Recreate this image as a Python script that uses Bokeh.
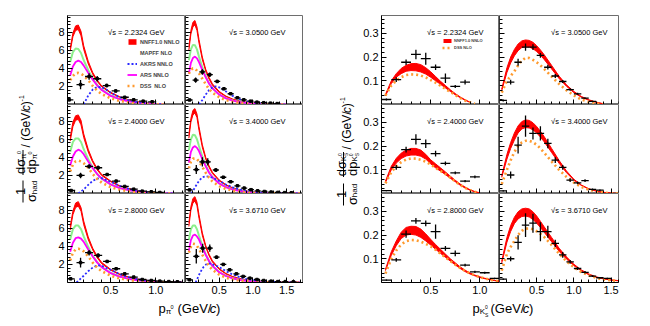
import math
import numpy as np
from bokeh.plotting import figure
from bokeh.layouts import row, column
from bokeh.models import (Range1d, LinearAxis, FixedTicker, PrintfTickFormatter, Grid,
                          CustomJSTickFormatter, Label, Legend, LegendItem)
from bokeh.embed import file_html
from bokeh.resources import INLINE

FONT = "Liberation Sans"

# ======================= pi0 data =======================
# --- 2.2324 GeV
pi0_2232_p = [0.05, 0.08, 0.11, 0.14, 0.17, 0.2, 0.25, 0.3, 0.35, 0.4, 0.5, 0.6, 0.7, 0.8, 0.9, 1.0, 1.1]
pi0_2232_nnff_hi = [6.2, 7.9, 8.7, 8.8, 8.1, 6.5, 4.8, 3.55, 2.7, 2.05, 1.35, 0.85, 0.52, 0.31, 0.17, 0.08, 0.02]
pi0_2232_nnff_lo = [5.9, 7.5, 8.2, 8.3, 7.6, 6.1, 4.5, 3.35, 2.55, 1.95, 1.27, 0.8, 0.49, 0.29, 0.16, 0.07, 0.02]
pi0_2232_mapff = [4.7, 5.8, 6.2, 6.15, 5.7, 4.9, 3.8, 2.85, 2.15, 1.65, 1.0, 0.62, 0.38, 0.22, 0.12, 0.05, 0.015]
pi0_2232_ars = [3.2, 4.2, 4.7, 4.85, 4.7, 4.3, 3.5, 2.75, 2.1, 1.6, 0.95, 0.58, 0.36, 0.21, 0.11, 0.05, 0.015]
pi0_2232_dss = [2.7, 3.15, 3.45, 3.5, 3.4, 3.2, 2.7, 2.05, 1.55, 1.15, 0.68, 0.4, 0.22, 0.11, 0.05, 0.02, 0.005]
pi0_2232_akrs_p = [0.2, 0.25, 0.3, 0.35, 0.4, 0.45, 0.5, 0.6, 0.7, 0.8, 0.9, 1.0, 1.1]
pi0_2232_akrs = [0.0, 1.0, 1.65, 1.95, 1.9, 1.65, 1.3, 0.8, 0.47, 0.26, 0.13, 0.05, 0.01]
pi0_2232_data_p = [0.04, 0.165, 0.26, 0.35, 0.455, 0.555, 0.655, 0.755, 0.86, 0.96]
pi0_2232_data_v = [0.52, 2.2, 3.1, 2.85, 2.1, 1.5, 0.8, 0.52, 0.37, 0.3]
pi0_2232_data_e = [0.15, 0.5, 0.35, 0.3, 0.2, 0.15, 0.12, 0.1, 0.08, 0.08]

# --- 3.0500 GeV
pi0_3050_p = [0.05, 0.08, 0.11, 0.14, 0.17, 0.2, 0.25, 0.3, 0.35, 0.4, 0.5, 0.6, 0.7, 0.8, 0.9, 1.0, 1.1, 1.2, 1.3, 1.4, 1.5]
pi0_3050_nnff_hi = [6.4, 8.2, 9.1, 9.3, 8.6, 7.2, 5.25, 3.9, 3.0, 2.28, 1.45, 0.93, 0.6, 0.38, 0.25, 0.16, 0.095, 0.055, 0.03, 0.015, 0.005]
pi0_3050_nnff_lo = [6.0, 7.8, 8.6, 8.8, 8.2, 6.8, 4.95, 3.7, 2.8, 2.12, 1.35, 0.87, 0.56, 0.36, 0.23, 0.14, 0.085, 0.05, 0.028, 0.013, 0.004]
pi0_3050_mapff = [4.9, 6.1, 6.6, 6.55, 6.1, 5.3, 4.1, 3.1, 2.35, 1.8, 1.1, 0.7, 0.45, 0.29, 0.18, 0.11, 0.07, 0.04, 0.02, 0.01, 0.003]
pi0_3050_ars = [3.4, 4.6, 5.15, 5.3, 5.1, 4.7, 3.8, 3.0, 2.3, 1.8, 1.1, 0.68, 0.43, 0.27, 0.17, 0.1, 0.06, 0.035, 0.02, 0.01, 0.003]
pi0_3050_dss = [3.4, 3.85, 4.0, 3.95, 3.75, 3.45, 2.85, 2.25, 1.7, 1.3, 0.8, 0.48, 0.3, 0.18, 0.11, 0.06, 0.035, 0.02, 0.01, 0.005, 0.0]
pi0_3050_akrs_p = [0.2, 0.25, 0.3, 0.35, 0.4, 0.45, 0.5, 0.6, 0.7, 0.8, 0.9, 1.0, 1.1, 1.2, 1.3, 1.4, 1.5]
pi0_3050_akrs = [0.0, 0.5, 1.1, 1.6, 1.9, 2.0, 1.9, 1.45, 0.95, 0.6, 0.37, 0.22, 0.13, 0.07, 0.04, 0.02, 0.0]
pi0_3050_data_p = [0.06, 0.15, 0.25, 0.36, 0.47, 0.57, 0.67, 0.77, 0.865, 0.965, 1.06, 1.16, 1.26, 1.36]
pi0_3050_data_v = [0.5, 2.7, 3.6, 3.3, 2.55, 1.74, 1.19, 0.74, 0.52, 0.37, 0.26, 0.2, 0.15, 0.1]
pi0_3050_data_e = [0.12, 0.3, 0.3, 0.25, 0.18, 0.12, 0.1, 0.08, 0.06, 0.05, 0.05, 0.05, 0.04, 0.04]

# --- 2.4000 GeV
pi0_2400_p = [0.05, 0.08, 0.11, 0.14, 0.17, 0.2, 0.25, 0.3, 0.35, 0.4, 0.5, 0.6, 0.7, 0.8, 0.9, 1.0, 1.1, 1.2]
pi0_2400_nnff_hi = [6.2, 7.9, 8.6, 8.7, 8.1, 6.6, 4.9, 3.65, 2.75, 2.1, 1.38, 0.86, 0.54, 0.33, 0.19, 0.1, 0.04, 0.01]
pi0_2400_nnff_lo = [5.8, 7.4, 8.1, 8.2, 7.6, 6.2, 4.6, 3.45, 2.6, 1.98, 1.3, 0.8, 0.5, 0.3, 0.17, 0.09, 0.035, 0.01]
pi0_2400_mapff = [4.6, 5.7, 6.1, 6.1, 5.7, 4.9, 3.8, 2.85, 2.15, 1.65, 1.0, 0.62, 0.38, 0.23, 0.13, 0.07, 0.03, 0.01]
pi0_2400_ars = [3.1, 4.1, 4.65, 4.85, 4.7, 4.35, 3.55, 2.8, 2.15, 1.65, 1.0, 0.6, 0.37, 0.22, 0.12, 0.06, 0.025, 0.01]
pi0_2400_dss = [2.45, 3.2, 3.55, 3.65, 3.55, 3.35, 2.85, 2.15, 1.6, 1.2, 0.7, 0.42, 0.24, 0.13, 0.07, 0.03, 0.01, 0.0]
pi0_2400_akrs_p = [0.14, 0.2, 0.25, 0.3, 0.35, 0.4, 0.5, 0.6, 0.7, 0.8, 0.9, 1.0, 1.1, 1.2]
pi0_2400_akrs = [0.0, 0.45, 0.95, 1.4, 1.65, 1.7, 1.3, 0.85, 0.52, 0.3, 0.16, 0.08, 0.03, 0.0]
pi0_2400_data_p = [0.06, 0.165, 0.26, 0.36, 0.46, 0.56, 0.655, 0.755, 0.85, 0.95, 1.045]
pi0_2400_data_v = [0.33, 2.0, 3.0, 2.85, 2.1, 1.37, 0.78, 0.48, 0.26, 0.19, 0.11]
pi0_2400_data_e = [0.1, 0.3, 0.25, 0.25, 0.15, 0.12, 0.1, 0.08, 0.06, 0.05, 0.05]

# --- 3.4000 GeV
pi0_3400_p = [0.05, 0.08, 0.11, 0.14, 0.17, 0.2, 0.25, 0.3, 0.35, 0.4, 0.5, 0.6, 0.7, 0.8, 0.9, 1.0, 1.1, 1.2, 1.3, 1.4, 1.5, 1.6, 1.7]
pi0_3400_nnff_hi = [6.5, 8.3, 9.2, 9.4, 8.8, 7.4, 5.4, 4.0, 3.05, 2.35, 1.5, 0.97, 0.63, 0.41, 0.27, 0.17, 0.11, 0.07, 0.045, 0.028, 0.016, 0.008, 0.002]
pi0_3400_nnff_lo = [6.1, 7.9, 8.7, 8.9, 8.4, 7.0, 5.1, 3.8, 2.88, 2.2, 1.4, 0.91, 0.59, 0.38, 0.25, 0.16, 0.1, 0.065, 0.04, 0.025, 0.014, 0.007, 0.002]
pi0_3400_mapff = [4.8, 6.0, 6.5, 6.45, 6.0, 5.25, 4.1, 3.1, 2.35, 1.8, 1.12, 0.72, 0.46, 0.3, 0.19, 0.12, 0.075, 0.046, 0.028, 0.017, 0.01, 0.005, 0.001]
pi0_3400_ars = [3.4, 4.6, 5.1, 5.25, 5.05, 4.7, 3.8, 3.0, 2.3, 1.8, 1.1, 0.7, 0.44, 0.28, 0.18, 0.11, 0.07, 0.043, 0.026, 0.016, 0.009, 0.004, 0.001]
pi0_3400_dss = [2.8, 3.5, 3.85, 3.9, 3.8, 3.55, 2.95, 2.3, 1.75, 1.33, 0.82, 0.5, 0.31, 0.19, 0.12, 0.07, 0.042, 0.025, 0.015, 0.008, 0.004, 0.002, 0.0]
pi0_3400_akrs_p = [0.09, 0.15, 0.2, 0.25, 0.3, 0.35, 0.4, 0.5, 0.6, 0.7, 0.8, 0.9, 1.0, 1.1, 1.2, 1.3, 1.4, 1.5, 1.6, 1.7]
pi0_3400_akrs = [0.0, 0.8, 1.4, 1.8, 1.9, 1.85, 1.75, 1.4, 1.0, 0.68, 0.45, 0.29, 0.18, 0.11, 0.07, 0.04, 0.025, 0.014, 0.007, 0.0]
pi0_3400_data_p = [0.06, 0.16, 0.25, 0.33, 0.45, 0.56, 0.67, 0.77, 0.87, 0.97, 1.07, 1.17, 1.27, 1.37, 1.47, 1.57]
pi0_3400_data_v = [0.4, 2.65, 3.5, 3.5, 2.6, 1.8, 1.3, 0.85, 0.6, 0.42, 0.3, 0.22, 0.16, 0.12, 0.1, 0.08]
pi0_3400_data_e = [0.12, 0.5, 0.5, 0.4, 0.2, 0.14, 0.1, 0.08, 0.06, 0.05, 0.05, 0.04, 0.04, 0.04, 0.04, 0.04]

# --- 2.8000 GeV
pi0_2800_p = [0.05, 0.08, 0.11, 0.14, 0.17, 0.2, 0.25, 0.3, 0.35, 0.4, 0.5, 0.6, 0.7, 0.8, 0.9, 1.0, 1.1, 1.2, 1.3]
pi0_2800_nnff_hi = [6.2, 7.9, 8.8, 8.95, 8.3, 6.8, 5.05, 3.8, 2.9, 2.22, 1.45, 0.93, 0.6, 0.38, 0.24, 0.15, 0.085, 0.045, 0.02]
pi0_2800_nnff_lo = [5.8, 7.5, 8.3, 8.45, 7.9, 6.4, 4.75, 3.6, 2.72, 2.08, 1.36, 0.87, 0.56, 0.36, 0.22, 0.13, 0.075, 0.04, 0.018]
pi0_2800_mapff = [4.8, 5.9, 6.3, 6.3, 5.9, 5.1, 3.95, 2.95, 2.25, 1.72, 1.05, 0.67, 0.42, 0.26, 0.16, 0.1, 0.06, 0.03, 0.012]
pi0_2800_ars = [3.4, 4.4, 4.9, 5.0, 4.85, 4.5, 3.65, 2.88, 2.2, 1.7, 1.03, 0.64, 0.4, 0.25, 0.15, 0.09, 0.05, 0.025, 0.01]
pi0_2800_dss = [2.45, 3.3, 3.65, 3.75, 3.65, 3.45, 2.9, 2.2, 1.65, 1.25, 0.75, 0.45, 0.27, 0.16, 0.09, 0.05, 0.025, 0.012, 0.004]
pi0_2800_akrs_p = [0.12, 0.2, 0.25, 0.3, 0.35, 0.4, 0.5, 0.6, 0.7, 0.8, 0.9, 1.0, 1.1, 1.2, 1.3]
pi0_2800_akrs = [0.0, 0.75, 1.25, 1.65, 1.9, 1.85, 1.4, 0.92, 0.58, 0.36, 0.21, 0.12, 0.065, 0.03, 0.01]
pi0_2800_data_p = [0.055, 0.165, 0.26, 0.36, 0.46, 0.56, 0.655, 0.755, 0.85, 0.95, 1.045, 1.145, 1.24]
pi0_2800_data_v = [0.41, 2.2, 3.3, 3.0, 2.33, 1.52, 0.96, 0.6, 0.33, 0.22, 0.15, 0.1, 0.08]
pi0_2800_data_e = [0.1, 0.55, 0.3, 0.25, 0.15, 0.12, 0.1, 0.08, 0.06, 0.05, 0.05, 0.04, 0.04]

# --- 3.6710 GeV
pi0_3671_p = [0.05, 0.08, 0.11, 0.14, 0.17, 0.2, 0.25, 0.3, 0.35, 0.4, 0.5, 0.6, 0.7, 0.8, 0.9, 1.0, 1.1, 1.2, 1.3, 1.4, 1.5, 1.6, 1.7]
pi0_3671_nnff_hi = [6.6, 8.4, 9.3, 9.5, 8.9, 7.5, 5.5, 4.1, 3.12, 2.4, 1.55, 1.0, 0.66, 0.44, 0.29, 0.19, 0.125, 0.08, 0.05, 0.032, 0.02, 0.011, 0.005]
pi0_3671_nnff_lo = [6.2, 8.0, 8.8, 9.0, 8.5, 7.1, 5.2, 3.9, 2.95, 2.26, 1.45, 0.94, 0.62, 0.41, 0.27, 0.18, 0.115, 0.075, 0.047, 0.03, 0.018, 0.01, 0.004]
pi0_3671_mapff = [4.7, 5.9, 6.3, 6.3, 5.9, 5.2, 4.05, 3.1, 2.38, 1.83, 1.15, 0.74, 0.48, 0.31, 0.2, 0.13, 0.085, 0.055, 0.034, 0.021, 0.012, 0.006, 0.002]
pi0_3671_ars = [3.5, 4.7, 5.2, 5.3, 5.1, 4.75, 3.85, 3.05, 2.35, 1.83, 1.13, 0.72, 0.46, 0.3, 0.19, 0.12, 0.078, 0.05, 0.031, 0.019, 0.011, 0.005, 0.001]
pi0_3671_dss = [3.3, 3.95, 4.3, 4.25, 4.05, 3.7, 3.05, 2.4, 1.82, 1.4, 0.87, 0.54, 0.34, 0.21, 0.13, 0.08, 0.05, 0.03, 0.018, 0.01, 0.005, 0.002, 0.0]
pi0_3671_akrs_p = [0.15, 0.22, 0.27, 0.32, 0.37, 0.42, 0.5, 0.6, 0.7, 0.8, 0.9, 1.0, 1.1, 1.2, 1.3, 1.4, 1.5, 1.6, 1.7]
pi0_3671_akrs = [0.0, 1.15, 1.75, 2.1, 2.1, 1.95, 1.7, 1.25, 0.88, 0.6, 0.4, 0.26, 0.17, 0.11, 0.07, 0.045, 0.027, 0.014, 0.005]
pi0_3671_data_p = [0.06, 0.16, 0.255, 0.36, 0.46, 0.56, 0.655, 0.755, 0.855, 0.955, 1.06, 1.16, 1.27, 1.37, 1.48, 1.6]
pi0_3671_data_v = [0.3, 2.9, 3.8, 3.8, 2.8, 2.0, 1.4, 0.96, 0.67, 0.48, 0.33, 0.22, 0.15, 0.1, 0.1, 0.08]
pi0_3671_data_e = [0.12, 0.8, 0.5, 0.4, 0.2, 0.15, 0.12, 0.1, 0.08, 0.06, 0.05, 0.05, 0.04, 0.04, 0.04, 0.04]

# ======================= K0S data =======================
ks_2232_p = [0.04, 0.1, 0.15, 0.2, 0.25, 0.3, 0.35, 0.4, 0.45, 0.5, 0.55, 0.6, 0.65, 0.7, 0.75, 0.8, 0.85, 0.9]
ks_2232_nnff_hi = [0.042, 0.1, 0.13, 0.152, 0.165, 0.172, 0.173, 0.168, 0.155, 0.138, 0.118, 0.098, 0.08, 0.062, 0.046, 0.032, 0.02, 0.01]
ks_2232_nnff_lo = [0.036, 0.088, 0.115, 0.13, 0.14, 0.143, 0.142, 0.137, 0.128, 0.115, 0.1, 0.085, 0.07, 0.055, 0.041, 0.029, 0.018, 0.009]
ks_2232_dss_p = [0.04, 0.1, 0.15, 0.2, 0.25, 0.3, 0.35, 0.4, 0.45, 0.5, 0.55, 0.6, 0.65, 0.7, 0.75, 0.8, 0.85, 0.9, 0.95]
ks_2232_dss = [0.038, 0.08, 0.1, 0.115, 0.124, 0.127, 0.126, 0.122, 0.114, 0.103, 0.092, 0.079, 0.066, 0.053, 0.04, 0.027, 0.017, 0.009, 0.003]
ks_2232_data_p = [0.05, 0.15, 0.25, 0.35, 0.45, 0.55, 0.65, 0.75, 0.85]
ks_2232_data_v = [0.021, 0.105, 0.178, 0.211, 0.193, 0.157, 0.111, 0.076, 0.094]
ks_2232_data_e = [0.004, 0.01, 0.012, 0.02, 0.025, 0.012, 0.02, 0.006, 0.01]

ks_3050_p = [0.03, 0.1, 0.15, 0.2, 0.25, 0.3, 0.35, 0.4, 0.45, 0.5, 0.55, 0.6, 0.7, 0.8, 0.9, 1.0, 1.1, 1.2, 1.3, 1.4]
ks_3050_nnff_hi = [0.065, 0.155, 0.2, 0.232, 0.255, 0.268, 0.272, 0.27, 0.262, 0.248, 0.23, 0.21, 0.165, 0.12, 0.083, 0.055, 0.034, 0.02, 0.01, 0.003]
ks_3050_nnff_lo = [0.058, 0.135, 0.175, 0.205, 0.227, 0.24, 0.244, 0.242, 0.235, 0.223, 0.208, 0.19, 0.15, 0.11, 0.077, 0.05, 0.031, 0.018, 0.009, 0.002]
ks_3050_dss_p = [0.03, 0.1, 0.15, 0.2, 0.25, 0.3, 0.35, 0.4, 0.45, 0.5, 0.55, 0.6, 0.7, 0.8, 0.9, 1.0, 1.1, 1.2, 1.3, 1.4]
ks_3050_dss = [0.05, 0.1, 0.12, 0.14, 0.165, 0.185, 0.197, 0.196, 0.188, 0.178, 0.165, 0.15, 0.118, 0.087, 0.06, 0.038, 0.021, 0.011, 0.005, 0.001]
ks_3050_data_p = [0.05, 0.15, 0.25, 0.35, 0.45, 0.55, 0.65, 0.75, 0.85, 0.95, 1.05, 1.15, 1.25]
ks_3050_data_v = [0.017, 0.094, 0.178, 0.242, 0.242, 0.207, 0.157, 0.12, 0.097, 0.063, 0.045, 0.027, 0.013]
ks_3050_data_e = [0.004, 0.01, 0.015, 0.015, 0.012, 0.01, 0.01, 0.008, 0.006, 0.005, 0.004, 0.003, 0.003]

ks_2400_p = [0.04, 0.1, 0.15, 0.2, 0.25, 0.3, 0.35, 0.4, 0.45, 0.5, 0.55, 0.6, 0.65, 0.7, 0.75, 0.8, 0.85, 0.9, 0.95, 1.0]
ks_2400_nnff_hi = [0.052, 0.115, 0.148, 0.17, 0.183, 0.19, 0.19, 0.183, 0.165, 0.142, 0.125, 0.108, 0.091, 0.073, 0.056, 0.04, 0.027, 0.016, 0.008, 0.003]
ks_2400_nnff_lo = [0.046, 0.1, 0.128, 0.147, 0.158, 0.162, 0.162, 0.157, 0.145, 0.125, 0.108, 0.094, 0.08, 0.064, 0.05, 0.035, 0.023, 0.014, 0.007, 0.002]
ks_2400_dss_p = [0.04, 0.1, 0.15, 0.2, 0.25, 0.3, 0.35, 0.4, 0.45, 0.5, 0.55, 0.6, 0.65, 0.7, 0.75, 0.8, 0.85, 0.9, 0.95, 1.0]
ks_2400_dss = [0.043, 0.09, 0.115, 0.132, 0.143, 0.148, 0.147, 0.142, 0.134, 0.122, 0.108, 0.095, 0.082, 0.067, 0.05, 0.036, 0.024, 0.014, 0.007, 0.002]
ks_2400_data_p = [0.05, 0.15, 0.25, 0.35, 0.45, 0.55, 0.65, 0.75, 0.85, 0.95]
ks_2400_data_v = [0.012, 0.11, 0.185, 0.228, 0.21, 0.168, 0.127, 0.087, 0.052, 0.07]
ks_2400_data_e = [0.003, 0.01, 0.012, 0.022, 0.018, 0.012, 0.008, 0.006, 0.005, 0.006]

ks_3400_p = [0.03, 0.1, 0.15, 0.2, 0.25, 0.3, 0.35, 0.4, 0.45, 0.5, 0.55, 0.6, 0.7, 0.8, 0.9, 1.0, 1.1, 1.2, 1.3, 1.4, 1.5, 1.6]
ks_3400_nnff_hi = [0.075, 0.165, 0.215, 0.255, 0.285, 0.303, 0.31, 0.308, 0.298, 0.282, 0.262, 0.24, 0.19, 0.14, 0.095, 0.06, 0.036, 0.02, 0.011, 0.005, 0.002, 0.0]
ks_3400_nnff_lo = [0.068, 0.145, 0.19, 0.225, 0.255, 0.272, 0.278, 0.276, 0.268, 0.255, 0.238, 0.218, 0.173, 0.128, 0.088, 0.056, 0.034, 0.019, 0.01, 0.004, 0.001, 0.0]
ks_3400_dss_p = [0.03, 0.1, 0.15, 0.2, 0.25, 0.3, 0.35, 0.4, 0.45, 0.5, 0.55, 0.6, 0.7, 0.8, 0.9, 1.0, 1.1, 1.2, 1.3, 1.4, 1.5, 1.6]
ks_3400_dss = [0.04, 0.1, 0.14, 0.175, 0.2, 0.215, 0.222, 0.222, 0.216, 0.205, 0.19, 0.172, 0.135, 0.1, 0.07, 0.046, 0.028, 0.016, 0.008, 0.004, 0.001, 0.0]
ks_3400_data_p = [0.05, 0.15, 0.25, 0.35, 0.45, 0.55, 0.65, 0.75, 0.85, 0.95, 1.05, 1.15, 1.25, 1.35]
ks_3400_data_v = [0.011, 0.078, 0.204, 0.284, 0.253, 0.253, 0.211, 0.141, 0.11, 0.056, 0.045, 0.054, 0.017, 0.014]
ks_3400_data_e = [0.003, 0.015, 0.035, 0.045, 0.025, 0.03, 0.02, 0.012, 0.01, 0.008, 0.006, 0.006, 0.004, 0.003]

ks_2800_p = [0.04, 0.1, 0.15, 0.2, 0.25, 0.3, 0.35, 0.4, 0.45, 0.5, 0.55, 0.6, 0.65, 0.7, 0.75, 0.8, 0.85, 0.9, 0.95, 1.0, 1.05, 1.1, 1.15, 1.2]
ks_2800_nnff_hi = [0.055, 0.13, 0.175, 0.212, 0.232, 0.237, 0.236, 0.225, 0.205, 0.182, 0.16, 0.14, 0.12, 0.1, 0.083, 0.066, 0.052, 0.04, 0.031, 0.024, 0.018, 0.013, 0.009, 0.006]
ks_2800_nnff_lo = [0.05, 0.115, 0.155, 0.185, 0.2, 0.203, 0.2, 0.19, 0.175, 0.158, 0.14, 0.123, 0.106, 0.09, 0.074, 0.059, 0.046, 0.036, 0.028, 0.021, 0.016, 0.012, 0.008, 0.005]
ks_2800_dss_p = [0.04, 0.1, 0.15, 0.2, 0.25, 0.3, 0.35, 0.4, 0.45, 0.5, 0.55, 0.6, 0.65, 0.7, 0.75, 0.8, 0.85, 0.9, 0.95, 1.0, 1.05, 1.1, 1.15, 1.2]
ks_2800_dss = [0.038, 0.1, 0.135, 0.16, 0.174, 0.179, 0.178, 0.172, 0.163, 0.152, 0.138, 0.122, 0.106, 0.09, 0.075, 0.061, 0.049, 0.039, 0.03, 0.023, 0.017, 0.012, 0.008, 0.005]
ks_2800_data_p = [0.05, 0.15, 0.25, 0.35, 0.45, 0.55, 0.65, 0.75, 0.85, 0.95, 1.05, 1.15]
ks_2800_data_v = [0.01, 0.095, 0.204, 0.26, 0.249, 0.214, 0.144, 0.123, 0.073, 0.045, 0.041, 0.017]
ks_2800_data_e = [0.003, 0.008, 0.015, 0.012, 0.012, 0.03, 0.01, 0.012, 0.006, 0.005, 0.004, 0.003]

ks_3671_p = [0.03, 0.1, 0.15, 0.2, 0.25, 0.3, 0.35, 0.4, 0.45, 0.5, 0.55, 0.6, 0.7, 0.8, 0.9, 1.0, 1.1, 1.2, 1.3, 1.4, 1.5, 1.6]
ks_3671_nnff_hi = [0.09, 0.19, 0.24, 0.275, 0.298, 0.31, 0.313, 0.31, 0.298, 0.28, 0.258, 0.235, 0.19, 0.145, 0.108, 0.077, 0.053, 0.036, 0.024, 0.016, 0.011, 0.008]
ks_3671_nnff_lo = [0.082, 0.17, 0.215, 0.248, 0.268, 0.278, 0.28, 0.276, 0.265, 0.25, 0.232, 0.212, 0.172, 0.132, 0.099, 0.071, 0.049, 0.033, 0.022, 0.015, 0.01, 0.007]
ks_3671_dss_p = [0.03, 0.1, 0.15, 0.2, 0.25, 0.3, 0.35, 0.4, 0.45, 0.5, 0.55, 0.6, 0.7, 0.8, 0.9, 1.0, 1.1, 1.2, 1.3, 1.4, 1.5, 1.6]
ks_3671_dss = [0.05, 0.12, 0.15, 0.175, 0.2, 0.218, 0.227, 0.228, 0.224, 0.216, 0.205, 0.192, 0.158, 0.122, 0.09, 0.064, 0.044, 0.03, 0.02, 0.013, 0.009, 0.006]
ks_3671_data_p = [0.05, 0.15, 0.25, 0.35, 0.45, 0.55, 0.65, 0.75, 0.85, 0.95, 1.05, 1.15, 1.25, 1.35, 1.45]
ks_3671_data_v = [0.014, 0.1, 0.169, 0.242, 0.25, 0.214, 0.214, 0.165, 0.116, 0.087, 0.059, 0.043, 0.027, 0.02, 0.017]
ks_3671_data_e = [0.003, 0.01, 0.03, 0.05, 0.04, 0.04, 0.025, 0.015, 0.012, 0.008, 0.006, 0.005, 0.004, 0.003, 0.003]

# axis ranges / ticks
pi0_xrange_left = (0.02, 1.33)
pi0_xrange_right = (0.0, 1.75)
pi0_yrange = (0.0, 9.85)
ks_xrange_left = (0.0, 1.2)
ks_xrange_right = (0.0, 1.6)
ks_yrange = (0.0, 0.375)

C_RED = "#ff0000"
C_GREEN = "#8cf08c"
C_BLUE = "#2a2aff"
C_MAG = "#ff00ff"
C_ORANGE = "#ff9a2e"

# ---------------- text helpers ----------------
WID = {' ': .278, '(': .333, ')': .333, '/': .278, '.': .278, '-': .333, '=': .584,
       'G': .778, 'e': .556, 'V': .667, 'c': .5, 'p': .556, 'd': .556, 'h': .556,
       'a': .556, 'K': .667, 'S': .667, 'σ': .6, 'π': .6, 's': .5}


def adv(text, size, scale=1.0):
    return sum(WID.get(ch, .556) for ch in text) * size * scale


def run(fig, x, y, pieces, rotated=False, scale=1.0):
    """pieces: (text, size, shift, style[, advance])"""
    for pc in pieces:
        text, size, shift, style = pc[:4]
        advance = pc[4] if len(pc) > 4 else True
        if rotated:
            lab = Label(x=x - shift, y=y, text=text, angle=math.pi / 2)
        else:
            lab = Label(x=x, y=y + shift, text=text)
        lab.text_align = "left"
        lab.text_baseline = "alphabetic"
        lab.text_font = FONT
        lab.text_font_size = f"{size}px"
        lab.text_font_style = style
        lab.text_color = "black"
        fig.add_layout(lab)
        if advance:
            if rotated:
                y += adv(text, size, scale)
            else:
                x += adv(text, size, scale)


def no_grid(f):
    f.center = [c for c in f.center if not isinstance(c, Grid)]


def blank(w, h):
    f = figure(width=w, height=h, x_range=Range1d(0, w), y_range=Range1d(0, h),
               output_backend="svg", toolbar_location=None, title=None,
               x_axis_location=None, y_axis_location=None,
               min_border_left=0, min_border_right=0, min_border_top=0, min_border_bottom=0)
    no_grid(f)
    f.outline_line_color = None
    f.background_fill_color = "white"
    f.border_fill_color = "white"
    return f


def style_axis(ax, show, fmt):
    ax.axis_line_color = "black"
    ax.axis_line_width = 1
    ax.major_tick_in = 5
    ax.major_tick_out = 0
    ax.minor_tick_in = 3
    ax.minor_tick_out = 0
    ax.major_tick_line_color = "black"
    ax.minor_tick_line_color = "black"
    ax.major_label_text_font = FONT
    ax.major_label_text_font_size = "11px"
    ax.major_label_text_color = "black"
    ax.major_label_standoff = 3
    if show:
        ax.formatter = PrintfTickFormatter(format=fmt)
    else:
        ax.formatter = CustomJSTickFormatter(code="return ''")


def make_axis(rng, ticks, minor, show, fmt):
    if show:
        ax = LinearAxis(ticker=FixedTicker(ticks=ticks, minor_ticks=minor))
    else:
        ax = LinearAxis(fixed_location=rng[0], ticker=FixedTicker(ticks=ticks, minor_ticks=minor))
    style_axis(ax, show, fmt)
    return ax


def make_pad(xr, yr, fw, fh, bl, br, bt, bb, xt, xminor, yt, yminor, showx, showy, xfmt, yfmt):
    p = figure(width=bl + fw + br, height=bt + fh + bb,
               x_range=Range1d(*xr), y_range=Range1d(*yr),
               output_backend="svg", toolbar_location=None, title=None,
               x_axis_location=None, y_axis_location=None,
               min_border_left=bl, min_border_right=br, min_border_top=bt, min_border_bottom=bb)
    no_grid(p)
    p.outline_line_color = "#6e6e6e"
    p.outline_line_width = 1
    p.background_fill_color = "white"
    p.border_fill_color = "white"
    p.add_layout(make_axis(xr, xt, xminor, showx, xfmt), "below")
    p.add_layout(make_axis(yr, yt, yminor, showy, yfmt), "left")
    return p


def draw_points(p, px, pv, pe, hw, marker):
    p.segment(x0=[x - hw for x in px], y0=pv, x1=[x + hw for x in px], y1=pv,
              line_color="black", line_width=1.3)
    p.segment(x0=px, y0=[v - e for v, e in zip(pv, pe)], x1=px, y1=[v + e for v, e in zip(pv, pe)],
              line_color="black", line_width=1.3)
    if marker:
        p.scatter(px, pv, marker="square", size=2.5, fill_color="black", line_color="black")


def energy_label(p, text, fw, fh, dx):
    p.add_layout(Label(x=fw - dx, y=fh - 17, x_units="screen", y_units="screen", text=text,
                       text_align="right", text_baseline="middle", text_font=FONT,
                       text_font_size="7.5px", text_color="black"))


# ---------------- geometry ----------------
FH = 89
ROW_T = 15
ROW_B = 18
YT_L = 45
YT_R = 57
PI_BL, PI_FA, PI_FB = 22, 118, 118
KS_BL, KS_FA, KS_FB, KS_BR = 21, 118, 119, 32

pi_x_minor_l = [round(v, 2) for v in np.arange(0.1, 1.31, 0.1)]
pi_x_minor_r = [round(v, 2) for v in np.arange(0.1, 1.71, 0.1)]
pi_y_minor = [round(v, 2) for v in np.arange(0.4, 9.81, 0.4)]
ks_x_minor_l = [round(v, 2) for v in np.arange(0.1, 1.21, 0.1)]
ks_x_minor_r = [round(v, 2) for v in np.arange(0.1, 1.61, 0.1)]
ks_y_minor = [round(v, 3) for v in np.arange(0.02, 0.371, 0.02)]

pi_panels = [
    ("2.2324", pi0_2232_p, pi0_2232_nnff_hi, pi0_2232_nnff_lo, pi0_2232_mapff, pi0_2232_ars, pi0_2232_dss,
     pi0_2232_akrs_p, pi0_2232_akrs, pi0_2232_data_p, pi0_2232_data_v, pi0_2232_data_e),
    ("3.0500", pi0_3050_p, pi0_3050_nnff_hi, pi0_3050_nnff_lo, pi0_3050_mapff, pi0_3050_ars, pi0_3050_dss,
     pi0_3050_akrs_p, pi0_3050_akrs, pi0_3050_data_p, pi0_3050_data_v, pi0_3050_data_e),
    ("2.4000", pi0_2400_p, pi0_2400_nnff_hi, pi0_2400_nnff_lo, pi0_2400_mapff, pi0_2400_ars, pi0_2400_dss,
     pi0_2400_akrs_p, pi0_2400_akrs, pi0_2400_data_p, pi0_2400_data_v, pi0_2400_data_e),
    ("3.4000", pi0_3400_p, pi0_3400_nnff_hi, pi0_3400_nnff_lo, pi0_3400_mapff, pi0_3400_ars, pi0_3400_dss,
     pi0_3400_akrs_p, pi0_3400_akrs, pi0_3400_data_p, pi0_3400_data_v, pi0_3400_data_e),
    ("2.8000", pi0_2800_p, pi0_2800_nnff_hi, pi0_2800_nnff_lo, pi0_2800_mapff, pi0_2800_ars, pi0_2800_dss,
     pi0_2800_akrs_p, pi0_2800_akrs, pi0_2800_data_p, pi0_2800_data_v, pi0_2800_data_e),
    ("3.6710", pi0_3671_p, pi0_3671_nnff_hi, pi0_3671_nnff_lo, pi0_3671_mapff, pi0_3671_ars, pi0_3671_dss,
     pi0_3671_akrs_p, pi0_3671_akrs, pi0_3671_data_p, pi0_3671_data_v, pi0_3671_data_e),
]

ks_panels = [
    ("2.2324", ks_2232_p, ks_2232_nnff_hi, ks_2232_nnff_lo, ks_2232_dss_p, ks_2232_dss,
     ks_2232_data_p, ks_2232_data_v, ks_2232_data_e),
    ("3.0500", ks_3050_p, ks_3050_nnff_hi, ks_3050_nnff_lo, ks_3050_dss_p, ks_3050_dss,
     ks_3050_data_p, ks_3050_data_v, ks_3050_data_e),
    ("2.4000", ks_2400_p, ks_2400_nnff_hi, ks_2400_nnff_lo, ks_2400_dss_p, ks_2400_dss,
     ks_2400_data_p, ks_2400_data_v, ks_2400_data_e),
    ("3.4000", ks_3400_p, ks_3400_nnff_hi, ks_3400_nnff_lo, ks_3400_dss_p, ks_3400_dss,
     ks_3400_data_p, ks_3400_data_v, ks_3400_data_e),
    ("2.8000", ks_2800_p, ks_2800_nnff_hi, ks_2800_nnff_lo, ks_2800_dss_p, ks_2800_dss,
     ks_2800_data_p, ks_2800_data_v, ks_2800_data_e),
    ("3.6710", ks_3671_p, ks_3671_nnff_hi, ks_3671_nnff_lo, ks_3671_dss_p, ks_3671_dss,
     ks_3671_data_p, ks_3671_data_v, ks_3671_data_e),
]

# ---------------- pi0 pads ----------------
pi_figs = []
for i, (lab, pp, hi, lo, mapff, ars, dss, akp, akrs, dp, dv, de) in enumerate(pi_panels):
    r, c = divmod(i, 2)
    left = c == 0
    bt = ROW_T if r == 0 else 0
    bb = ROW_B if r == 2 else 0
    fw = PI_FA if left else PI_FB
    bl = PI_BL if left else 0
    xr = pi0_xrange_left if left else pi0_xrange_right
    xt = [0.5, 1.0] if left else [0.5, 1.0, 1.5]
    xm = pi_x_minor_l if left else pi_x_minor_r
    p = make_pad(xr, pi0_yrange, fw, FH, bl, 0, bt, bb, xt, xm, [2, 4, 6, 8], pi_y_minor,
                 r == 2, left, "%.1f", "%.0f")
    r_band = p.varea(x=pp, y1=lo, y2=hi, fill_color=C_RED)
    p.line(pp, hi, line_color=C_RED, line_width=1)
    p.line(pp, lo, line_color=C_RED, line_width=1)
    p.line(pp, mapff, line_color=C_GREEN, line_width=2)
    r_ars = p.line(pp, ars, line_color=C_MAG, line_width=1.8)
    r_akrs = p.line(akp, akrs, line_color=C_BLUE, line_width=1.8, line_dash="2 2")
    r_dss = p.line(pp, dss, line_color=C_ORANGE, line_width=2.6, line_dash="2 3")
    draw_points(p, dp, dv, de, 0.045, True)
    energy_label(p, f"√s = {lab} GeV", fw, FH, 21 if left else 18)
    if i == 0:
        r_map = p.quad(left=[], right=[], top=[], bottom=[], fill_color="#9cf59c", line_color="#22cc22")
        leg = Legend(items=[LegendItem(label="NNFF1.0 NNLO", renderers=[r_band]),
                            LegendItem(label="MAPFF NLO", renderers=[r_map]),
                            LegendItem(label="AKRS NNLO", renderers=[r_akrs]),
                            LegendItem(label="ARS NNLO", renderers=[r_ars]),
                            LegendItem(label="DSS  NLO", renderers=[r_dss])],
                     location=(60, 15))
        leg.glyph_width = 10
        leg.glyph_height = 7
        leg.label_height = 7
        leg.label_width = 10
        leg.spacing = 4
        leg.padding = 0
        leg.margin = 0
        leg.label_standoff = 3
        leg.label_text_font = FONT
        leg.label_text_font_size = "5.5px"
        leg.label_text_font_style = "bold"
        leg.border_line_alpha = 0
        leg.background_fill_alpha = 0
        p.add_layout(leg)
    pi_figs.append(p)

# ---------------- K0S pads ----------------
ks_figs = []
for i, (lab, pp, hi, lo, dp_, dss, dp, dv, de) in enumerate(ks_panels):
    r, c = divmod(i, 2)
    left = c == 0
    bt = ROW_T if r == 0 else 0
    bb = ROW_B if r == 2 else 0
    fw = KS_FA if left else KS_FB
    bl = KS_BL if left else 0
    br = 0 if left else KS_BR
    xr = ks_xrange_left if left else ks_xrange_right
    xt = [0.5, 1.0] if left else [0.5, 1.0, 1.5]
    xm = ks_x_minor_l if left else ks_x_minor_r
    p = make_pad(xr, ks_yrange, fw, FH, bl, br, bt, bb, xt, xm, [0.1, 0.2, 0.3], ks_y_minor,
                 r == 2, left, "%.1f", "%.1f")
    r_band = p.varea(x=pp, y1=lo, y2=hi, fill_color=C_RED)
    p.line(pp, hi, line_color=C_RED, line_width=1)
    p.line(pp, lo, line_color=C_RED, line_width=1)
    r_dss = p.line(dp_, dss, line_color=C_ORANGE, line_width=2.6, line_dash="2 3")
    draw_points(p, dp, dv, de, 0.05, False)
    energy_label(p, f"√s = {lab} GeV", fw, FH, 16 if left else 11)
    if i == 0:
        leg = Legend(items=[LegendItem(label="NNFF1.0 NNLO", renderers=[r_band]),
                            LegendItem(label="DSS NLO", renderers=[r_dss])],
                     location=(61, 54))
        leg.glyph_width = 10
        leg.glyph_height = 5
        leg.label_height = 5
        leg.label_width = 10
        leg.spacing = 2
        leg.padding = 0
        leg.margin = 0
        leg.label_standoff = 2
        leg.label_text_font = FONT
        leg.label_text_font_size = "4px"
        leg.label_text_font_style = "bold"
        leg.border_line_alpha = 0
        leg.background_fill_alpha = 0
        p.add_layout(leg)
    ks_figs.append(p)

# ---------------- titles ----------------
H_PADS = ROW_T + 3 * FH + ROW_B  # 300


def ytitle(width, B, c1, c2, c3, kind):
    f = blank(width, H_PADS)
    H = H_PADS
    l1 = adv("1", 13)
    run(f, B - 2.5, H - (c1 + l1 / 2), [("1", 13, 0, "normal")], rotated=True)
    f.segment(x0=[B], y0=[H - (c1 + 11)], x1=[B], y1=[H - (c1 - 11)], line_color="black", line_width=1)
    ld = adv("σ", 13) + adv("had", 8)
    run(f, B + 8.5, H - (c1 + ld / 2), [("σ", 13, 0, "normal"), ("had", 8, -2.5, "normal")], rotated=True)
    if kind == "pi":
        sub = [("π", 8, -2.5, "normal"), ("0", 5.5, 1.5, "normal")]
        lsub = adv("π", 8) + adv("0", 5.5)
    else:
        sub = [("K", 8, -2.5, "normal"), ("0", 5, 1.5, "normal", False), ("S", 5, -4.5, "normal")]
        lsub = adv("K", 8) + adv("S", 5)
    ln = adv("dσ", 13) + lsub
    run(f, B - 2.5, H - (c2 + ln / 2), [("dσ", 13, 0, "normal")] + sub, rotated=True)
    f.segment(x0=[B], y0=[H - (c2 + 12.5)], x1=[B], y1=[H - (c2 - 12.5)], line_color="black", line_width=1)
    ldn = adv("dp", 13) + lsub
    run(f, B + 8.5, H - (c2 + ldn / 2), [("dp", 13, 0, "normal")] + sub, rotated=True)
    run(f, B + 3, H - c3, [("/ (GeV/", 12, 0, "normal"), ("c", 12, 0, "italic"),
                            (")", 12, 0, "normal"), ("-1", 7, 4.5, "normal")], rotated=True, scale=0.96)
    return f


ytl = ytitle(YT_L, 22.5, 191, 162, 147, "pi")
ytr = ytitle(YT_R, 40.0, 194, 164, 149, "ks")

XT_H = 326 - H_PADS
xtl = blank(YT_L + PI_BL + PI_FA + PI_FB, XT_H)
run(xtl, 158, XT_H - 7.5, [("p", 13, 0, "normal"), ("π", 8, -3.5, "normal"), ("0", 5.5, 1.0, "normal")])
run(xtl, 177, XT_H - 7.5, [("(GeV/", 13, 0, "normal"), ("c", 13, 0, "italic"), (")", 13, 0, "normal")],
    scale=0.95)
xtr = blank(YT_R + KS_BL + KS_FA + KS_FB + KS_BR, XT_H)
run(xtr, 169, XT_H - 7.5, [("p", 13, 0, "normal"), ("K", 8, -3.5, "normal"), ("0", 5, 1.0, "normal", False),
                           ("S", 5, -6.5, "normal")])
run(xtr, 187, XT_H - 7.5, [("(GeV/", 13, 0, "normal"), ("c", 13, 0, "italic"), (")", 13, 0, "normal")],
    scale=0.95)

left_pads = column(row(pi_figs[0], pi_figs[1]), row(pi_figs[2], pi_figs[3]), row(pi_figs[4], pi_figs[5]))
right_pads = column(row(ks_figs[0], ks_figs[1]), row(ks_figs[2], ks_figs[3]), row(ks_figs[4], ks_figs[5]))
left_block = column(row(ytl, left_pads), xtl)
right_block = column(row(ytr, right_pads), xtr)
root = row(left_block, right_block)

open("out.html", "w").write(file_html(root, INLINE))
